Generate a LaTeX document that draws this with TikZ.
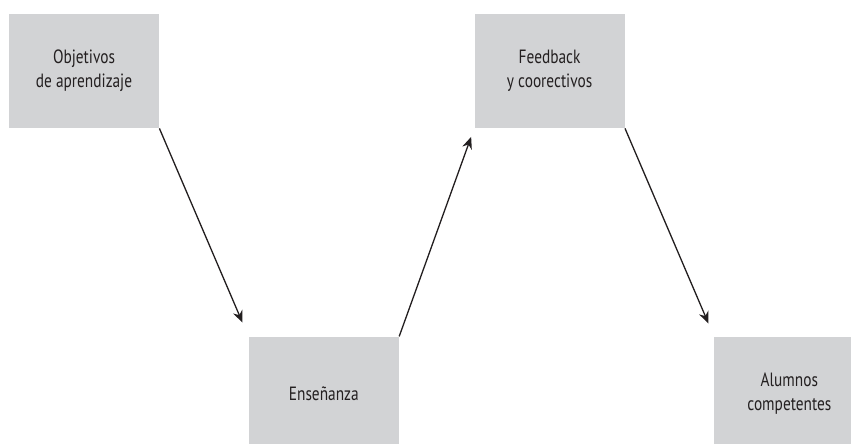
\documentclass[tikz,border=0pt]{standalone}
\usepackage{fontspec}
\setsansfont{PT Sans}[FakeStretch=0.8]
\usetikzlibrary{arrows.meta, positioning}
\definecolor{boxgray}{RGB}{210,211,213}
\definecolor{inkgray}{RGB}{35,31,32}

\begin{document}
\begin{tikzpicture}[
        node distance = 104pt and 44.5pt,
        stagebox/.style = {fill=boxgray, text=inkgray, align=center, minimum width=75pt, minimum height=57pt, inner sep=0pt, font=\sffamily\fontsize{9.6}{12}\selectfont},
        flow/.style = {-{Stealth[length=6pt, width=5pt]}, line width=0.65pt, draw=inkgray, fill=inkgray},
    ]
    \useasboundingbox (0,0) rectangle (425.5pt,-222pt);
    \clip (0,0) rectangle (425.5pt,-222pt);
    \node[stagebox]                                       (objetivos) at (42pt,-35.5pt) {Objetivos\\de aprendizaje};
    \node[stagebox, below right=of objetivos]             (ensenanza) {Enseñanza};
    \node[stagebox, above right=104pt and 37.5pt of ensenanza] (feedback) {Feedback\\y coorectivos};
    \node[stagebox, below right=of feedback]              (alumnos) {Alumnos\\competentes};
    %
    \draw[flow, shorten >=7.5pt]  (objetivos.south east) -- (ensenanza.north west);
    \draw[flow, shorten >=4.5pt]  (ensenanza.north east) -- (feedback.south west);
    \draw[flow, shorten >=7pt]    (feedback.south east) -- (alumnos.north west);
    %
\end{tikzpicture}
\end{document}
